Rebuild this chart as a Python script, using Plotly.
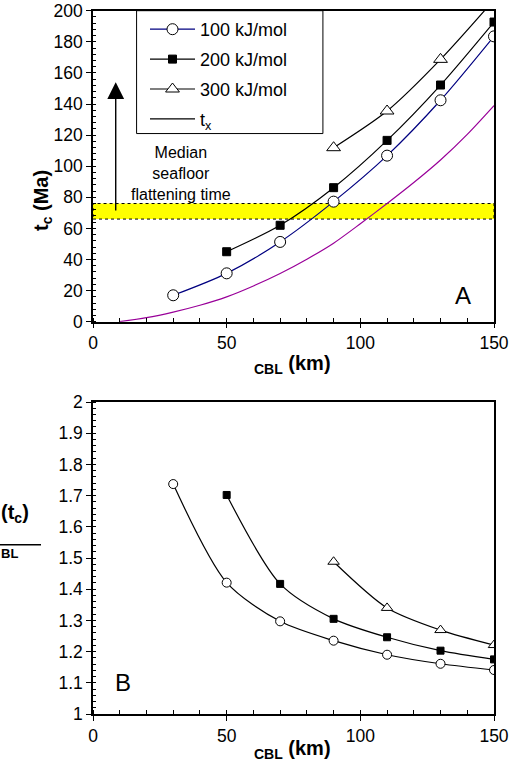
import plotly.graph_objects as go

# ---------------- data ----------------
cbl_100 = [30, 50, 70, 90, 110, 130, 150]
tc_100 = [17.0, 31.1, 51.3, 77.2, 106.8, 142.4, 183.5]
cbl_200 = [50, 70, 90, 110, 130, 150]
tc_200 = [45.0, 62.0, 86.2, 116.6, 152.2, 192.7]
cbl_300 = [90, 110, 130, 150]
tc_300 = [111.9, 135.5, 168.7, 207.0]
cbl_tx = [10, 20, 30, 40, 50, 60, 70, 80, 90, 100, 110, 120, 130, 140, 150]
tx = [0.0, 2.6, 6.2, 10.6, 16.0, 23.0, 31.0, 40.2, 50.5, 63.0, 76.0, 89.5, 104.0, 120.5, 139.0]

ratio_100 = [1.737, 1.421, 1.297, 1.235, 1.190, 1.161, 1.141]
ratio_200 = [1.702, 1.417, 1.305, 1.246, 1.203, 1.175]
ratio_300 = [1.488, 1.340, 1.269, 1.221]

band_low, band_high = 66, 76
series_names = ["100 kJ/mol", "200 kJ/mol", "300 kJ/mol", "t<sub>x</sub>"]

FONT = "Arial, Liberation Sans, sans-serif"
W, H = 526, 779
L, R = 93, 32
PW = W - L - R


def px_x(p):
    return (p - L) / PW


def px_y(p):
    return 1 - p / H


fig = go.Figure()

# ---------------- panel A ----------------
fig.add_trace(go.Scatter(
    x=cbl_100, y=tc_100, name=series_names[0], legendgroup="g1",
    mode="lines+markers", line=dict(color="#000080", width=1.2, shape="spline", smoothing=0.8),
    marker=dict(symbol="circle", size=11, color="white", line=dict(color="black", width=1)),
    xaxis="x", yaxis="y"))
fig.add_trace(go.Scatter(
    x=cbl_200, y=tc_200, name=series_names[1], legendgroup="g2",
    mode="lines+markers", line=dict(color="black", width=1.2, shape="spline", smoothing=0.8),
    marker=dict(symbol="square", size=8, color="black", line=dict(color="black", width=1)),
    xaxis="x", yaxis="y"))
fig.add_trace(go.Scatter(
    x=cbl_300, y=tc_300, name=series_names[2], legendgroup="g3",
    mode="lines+markers", line=dict(color="black", width=1.2, shape="spline", smoothing=0.8),
    marker=dict(symbol="triangle-up", size=12, color="white", line=dict(color="black", width=1)),
    xaxis="x", yaxis="y"))
fig.add_trace(go.Scatter(
    x=cbl_tx, y=tx, name=series_names[3], showlegend=False,
    mode="lines", line=dict(color="#990099", width=1.2, shape="spline", smoothing=0.8),
    xaxis="x", yaxis="y"))
# legend entry for t_x (legend shows a black line)
fig.add_trace(go.Scatter(
    x=[None], y=[None], name=series_names[3], legendgroup="g4",
    mode="lines", line=dict(color="black", width=1.2), xaxis="x", yaxis="y"))

# ---------------- panel B ----------------
fig.add_trace(go.Scatter(
    x=cbl_100, y=ratio_100, showlegend=False,
    mode="lines+markers", line=dict(color="black", width=1.2, shape="spline", smoothing=0.8),
    marker=dict(symbol="circle", size=9, color="white", line=dict(color="black", width=1)),
    xaxis="x2", yaxis="y2"))
fig.add_trace(go.Scatter(
    x=cbl_200, y=ratio_200, showlegend=False,
    mode="lines+markers", line=dict(color="black", width=1.2, shape="spline", smoothing=0.8),
    marker=dict(symbol="square", size=7, color="black", line=dict(color="black", width=1)),
    xaxis="x2", yaxis="y2"))
fig.add_trace(go.Scatter(
    x=cbl_300, y=ratio_300, showlegend=False,
    mode="lines+markers", line=dict(color="black", width=1.2, shape="spline", smoothing=0.8),
    marker=dict(symbol="triangle-up", size=10, color="white", line=dict(color="black", width=1)),
    xaxis="x2", yaxis="y2"))

axis_common = dict(
    showline=True, linecolor="black", linewidth=1.5, mirror=True,
    ticks="outside", ticklen=5, tickwidth=1, tickcolor="black",
    showgrid=False, zeroline=False,
    tickfont=dict(family=FONT, size=17.5, color="black"),
)

dom_a = [px_y(321.7), px_y(10.7)]
dom_b = [px_y(714), px_y(402)]

fig.update_layout(
    width=W, height=H,
    margin=dict(l=L, r=R, t=0, b=0),
    template="none",
    paper_bgcolor="white", plot_bgcolor="white",
    font=dict(family=FONT, color="black"),
    hovermode=False,
    xaxis=dict(axis_common, range=[0, 150], dtick=50, tick0=0, anchor="y", domain=[0, 1],
               minor=dict(ticks="inside", ticklen=4, dtick=10, tickcolor="black", showgrid=False)),
    yaxis=dict(axis_common, range=[0, 200], dtick=20, tick0=0, anchor="x", domain=dom_a,
               minor=dict(ticks="inside", ticklen=3, dtick=4, tickcolor="black", showgrid=False)),
    xaxis2=dict(axis_common, range=[0, 150], dtick=50, tick0=0, anchor="y2", domain=[0, 1],
                minor=dict(ticks="inside", ticklen=4, dtick=10, tickcolor="black", showgrid=False)),
    yaxis2=dict(axis_common, range=[1, 2], dtick=0.1, tick0=1, anchor="x2", domain=dom_b,
                minor=dict(ticks="inside", ticklen=3, dtick=0.02, tickcolor="black", showgrid=False)),
    showlegend=True,
    legend=dict(x=px_x(145), xanchor="left", y=px_y(11), yanchor="top",
                bgcolor="rgba(0,0,0,0)", borderwidth=0, tracegroupgap=3.5,
                traceorder="grouped", itemwidth=45,
                font=dict(family=FONT, size=18, color="black")),
)

fig.add_shape(type="rect", xref="x", yref="y", x0=0, x1=150, y0=band_low, y1=band_high,
              fillcolor="#FFFF00", line=dict(color="black", width=1, dash="dot"), layer="below")
fig.add_shape(type="rect", xref="x", yref="y", x0=16.3, x1=86, y0=121, y1=200,
              fillcolor="white", line=dict(color="black", width=1), layer="below")
fig.add_shape(type="line", xref="paper", yref="paper", x0=px_x(0), x1=px_x(41),
              y0=px_y(544.7), y1=px_y(544.7), line=dict(color="black", width=1.5))

fig.add_annotation(x=8.5, y=154, ax=8.5, ay=70.5, xref="x", yref="y", axref="x", ayref="y",
                   text="", showarrow=True, arrowhead=2, arrowsize=2.4, arrowwidth=1.4,
                   arrowcolor="black")
fig.add_annotation(x=33, y=95.4, xref="x", yref="y", showarrow=False,
                   text="Median<br>seafloor<br>flattening time",
                   font=dict(family=FONT, size=16, color="black"))
fig.add_annotation(x=138.5, y=17, xref="x", yref="y", showarrow=False, text="A",
                   font=dict(family=FONT, size=24, color="black"))
fig.add_annotation(x=11.1, y=1.102, xref="x2", yref="y2", showarrow=False, text="B",
                   font=dict(family=FONT, size=24, color="black"))

# axis titles
fig.add_annotation(x=px_x(28), y=px_y(168), xref="paper", yref="paper", showarrow=False,
                   text="<b>t<sub>c</sub> (Ma)</b>", textangle=-90,
                   font=dict(family=FONT, size=20, color="black"))
fig.add_annotation(x=px_x(292), y=px_y(364), xref="paper", yref="paper", showarrow=False,
                   text="<b><sub>CBL</sub> (km)</b>",
                   font=dict(family=FONT, size=20, color="black"))
fig.add_annotation(x=px_x(292), y=px_y(764), xref="paper", yref="paper", showarrow=False,
                   text="<b><sub>CBL</sub> (km)</b>",
                   font=dict(family=FONT, size=20, color="black"))
fig.add_annotation(x=px_x(-1), y=px_y(528), xref="paper", yref="paper", showarrow=False,
                   xanchor="left", text="<b>(t<sub>c</sub>)</b>",
                   font=dict(family=FONT, size=20, color="black"))
fig.add_annotation(x=px_x(-1), y=px_y(563), xref="paper", yref="paper", showarrow=False,
                   xanchor="left", text="<b>BL</b>",
                   font=dict(family=FONT, size=13, color="black"))

fig.write_html("out.html")
